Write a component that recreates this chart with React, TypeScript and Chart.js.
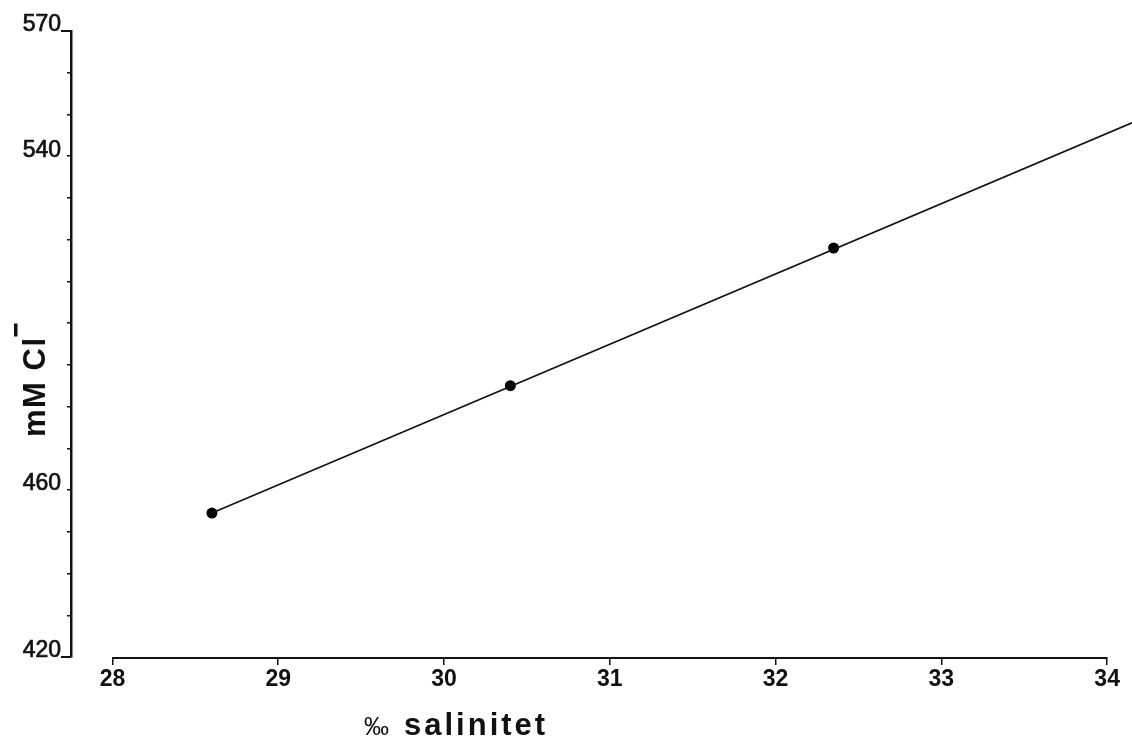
import { useEffect, useRef } from 'react';
import { Chart, registerables } from 'chart.js';

Chart.register(...registerables);

// Measured samples: salinity (‰) against chloride (mM)
const salinity = [28.6, 30.4, 32.35];
const chloride = [454.5, 485, 518];

// Straight calibration line through the samples, running to the right edge
const fitSalinity = [28.6, 34.15];
const fitChloride = [454.5, 548];

const xTicks = [28, 29, 30, 31, 32, 33, 34];
const yTicks = [420, 430, 440, 450, 460, 470, 480, 490, 500, 510, 520, 530, 540, 550, 560, 570];
const yLabelled = [420, 460, 540, 570];

const xTitleUnit = '‰';
const xTitleText = 'salinitet';
const yTitleText = 'mM Cl';

const X_MIN = 27.75;
const X_MAX = 34.15;
const Y_MIN = 420;
const Y_MAX = 570;

const INK = '#111';
const FONT = "'Liberation Sans', Arial, Helvetica, sans-serif";

const decorations = {
  id: 'decorations',
  afterDraw(chart: any) {
    const ctx: CanvasRenderingContext2D = chart.ctx;
    const xs = chart.scales.x;
    const ys = chart.scales.y;
    const area = chart.chartArea;
    ctx.save();
    ctx.strokeStyle = INK;
    ctx.fillStyle = INK;

    // x axis baseline, only between the first and last tick
    const xa = xs.getPixelForValue(xTicks[0]);
    const xb = xs.getPixelForValue(xTicks[xTicks.length - 1]);
    const yBase = area.bottom + 1;
    ctx.lineWidth = 2;
    ctx.beginPath();
    ctx.moveTo(xa, yBase);
    ctx.lineTo(xb, yBase);
    ctx.stroke();

    // longer ticks at both ends of the y axis
    const axisX = area.left;
    [ys.min, ys.max].forEach((v: number) => {
      const py = ys.getPixelForValue(v);
      ctx.beginPath();
      ctx.moveTo(axisX - 10, py);
      ctx.lineTo(axisX, py);
      ctx.stroke();
    });

    // y tick labels, sitting just above their ticks
    ctx.font = `23px ${FONT}`;
    ctx.textAlign = 'right';
    ctx.textBaseline = 'middle';
    ctx.lineWidth = 0.7;
    yLabelled.forEach((v) => {
      const py = ys.getPixelForValue(v);
      ctx.fillText(String(v), axisX - 10, py - 6);
      ctx.strokeText(String(v), axisX - 10, py - 6);
    });

    // x axis title
    ctx.textAlign = 'left';
    ctx.textBaseline = 'alphabetic';
    ctx.font = `25px ${FONT}`;
    ctx.fillText(xTitleUnit, 364, 735);
    ctx.font = `bold 31px ${FONT}`;
    (ctx as any).letterSpacing = '3px';
    ctx.fillText(xTitleText, 404, 735);
    (ctx as any).letterSpacing = '0px';

    // y axis title, rotated, with a superscript minus
    ctx.save();
    ctx.translate(45, 437);
    ctx.rotate(-Math.PI / 2);
    ctx.font = `bold 31px ${FONT}`;
    (ctx as any).letterSpacing = '1.5px';
    ctx.fillText(yTitleText, 0, 0);
    const w = ctx.measureText(yTitleText).width;
    (ctx as any).letterSpacing = '0px';
    ctx.fillRect(w, -31, 13, 3.5);
    ctx.restore();

    ctx.restore();
  },
};

export default function App() {
  const canvasRef = useRef<HTMLCanvasElement>(null);

  useEffect(() => {
    const canvas = canvasRef.current;
    if (!canvas) return;
    const chart = new Chart(canvas, {
      type: 'scatter',
      data: {
        datasets: [
          {
            label: 'fit',
            data: fitSalinity.map((x, i) => ({ x, y: fitChloride[i] })),
            showLine: true,
            borderColor: INK,
            borderWidth: 1.5,
            pointRadius: 0,
            backgroundColor: INK,
          },
          {
            label: 'samples',
            data: salinity.map((x, i) => ({ x, y: chloride[i] })),
            showLine: false,
            pointRadius: 5.5,
            pointBackgroundColor: '#000',
            pointBorderColor: '#000',
            pointBorderWidth: 0,
          },
        ],
      },
      options: {
        responsive: false,
        animation: false,
        layout: { padding: { top: 31, left: 0, right: 0, bottom: 0 }, autoPadding: false } as any,
        plugins: {
          legend: { display: false },
          tooltip: { enabled: false },
        },
        scales: {
          x: {
            type: 'linear',
            min: X_MIN,
            max: X_MAX,
            afterBuildTicks: (s: any) => {
              s.ticks = xTicks.map((v) => ({ value: v }));
            },
            afterFit: (s: any) => {
              s.height = 85;
            },
            border: { display: false },
            grid: {
              drawOnChartArea: false,
              drawTicks: true,
              tickLength: 8,
              color: INK,
              lineWidth: 1.5,
            },
            ticks: {
              autoSkip: false,
              maxRotation: 0,
              padding: 1,
              color: INK,
              font: { family: FONT, size: 23, weight: 'bold' },
              callback: (v: any) => String(v),
            },
          },
          y: {
            type: 'linear',
            min: Y_MIN,
            max: Y_MAX,
            afterBuildTicks: (s: any) => {
              s.ticks = yTicks.map((v) => ({ value: v }));
            },
            afterFit: (s: any) => {
              s.width = 71;
            },
            border: { display: true, color: INK, width: 2.5 },
            grid: {
              drawOnChartArea: false,
              drawTicks: true,
              tickLength: 4,
              color: INK,
              lineWidth: 1.5,
            },
            ticks: {
              autoSkip: false,
              padding: 0,
              callback: () => '',
            },
          },
        },
      },
      plugins: [decorations],
    });
    return () => chart.destroy();
  }, []);

  return (
    <div
      style={{
        position: 'fixed',
        left: 0,
        top: 0,
        width: 1132,
        height: 742,
        background: '#fff',
      }}
    >
      <canvas ref={canvasRef} width={1132} height={742} style={{ display: 'block' }} />
    </div>
  );
}
